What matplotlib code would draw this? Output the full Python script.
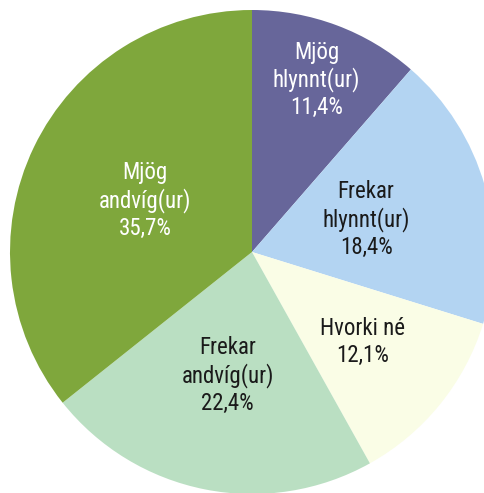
import matplotlib.pyplot as plt
import numpy as np

# data, clockwise from 12 o'clock
categories = ['Mjög\nhlynnt(ur)', 'Frekar\nhlynnt(ur)', 'Hvorki né',
              'Frekar\nandvíg(ur)', 'Mjög\nandvíg(ur)']
shares = [11.4, 18.4, 12.1, 22.4, 35.7]
pct_labels = ['11,4%', '18,4%', '12,1%', '22,4%', '35,7%']

colors = ['#67669a', '#b3d4f2', '#fafde6', '#badfc2', '#7fa73c']
text_colors = ['white', '#1a1a1a', '#1a1a1a', '#1a1a1a', 'white']
label_dist = [0.76, 0.49, 0.59, 0.52, 0.49]

W, H = 484, 493
fig = plt.figure(figsize=(W / 100, H / 100), dpi=100)
ax = fig.add_axes([0, 0, 1, 1])

cx, cy, R = 252, H - 252, 242
wedges, _ = ax.pie(shares, colors=colors, startangle=90, counterclock=False,
                   center=(cx, cy), radius=R, frame=True,
                   wedgeprops=dict(linewidth=0))
ax.set_xlim(0, W)
ax.set_ylim(0, H)
ax.axis('off')

# labels sit at the wedge's middle angle, each at its own distance from the centre
for w, cat, pct, tc, d in zip(wedges, categories, pct_labels, text_colors, label_dist):
    ang = np.deg2rad((w.theta1 + w.theta2) / 2)
    x = cx + d * R * np.cos(ang)
    y = cy + d * R * np.sin(ang)
    ax.text(x, y, cat + '\n' + pct, ha='center', va='center', color=tc,
            fontsize=16.5, linespacing=1.2,
            family=['Roboto Condensed', 'DejaVu Sans'])

fig.savefig('out.png', dpi=100)
